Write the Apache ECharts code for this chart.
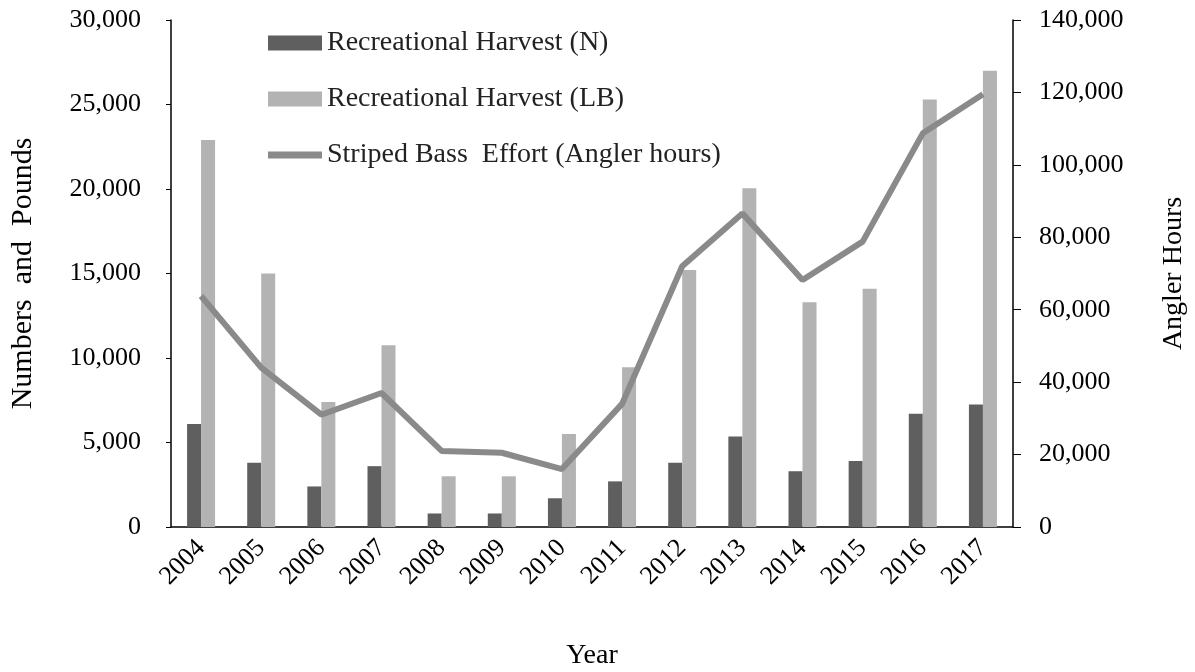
<!DOCTYPE html>
<html>
<head>
<meta charset="utf-8">
<script src="https://cdn.jsdelivr.net/npm/echarts@6/dist/echarts.min.js"></script>
<style>
  html, body { margin: 0; padding: 0; background: #fff; }
  #chart { width: 1195px; height: 672px; }
</style>
</head>
<body>
<div id="chart"></div>
<script>
const years = ['2004', '2005', '2006', '2007', '2008', '2009', '2010', '2011', '2012', '2013', '2014', '2015', '2016', '2017']
const harvestN = [6100, 3800, 2400, 3600, 800, 800, 1700, 2700, 3800, 5350, 3300, 3900, 6700, 7250]
const harvestLB = [22900, 15000, 7400, 10750, 3000, 3000, 5500, 9450, 15200, 20050, 13300, 14100, 25300, 27000]
const effortHours = [63800, 44000, 31000, 37000, 21000, 20500, 16000, 34000, 72000, 86600, 68200, 78800, 108700, 119500]

const font = 'Liberation Serif'
const fmt = function (v) { return Number(v).toLocaleString('en-US') }

const myChart = echarts.init(document.getElementById('chart'))
myChart.setOption({
  animation: false,
  textStyle: { fontFamily: font, color: '#000' },
  grid: { left: 171, right: 182, top: 20, bottom: 145, outerBoundsMode: 'none', containLabel: false },
  legend: {
    orient: 'vertical',
    left: 263,
    top: 24,
    itemWidth: 54,
    itemHeight: 15,
    itemGap: 28,
    textStyle: { fontFamily: font, fontSize: 28, lineHeight: 27, color: '#222' },
    data: [
      { name: 'Recreational Harvest (N)', icon: 'rect' },
      { name: 'Recreational Harvest (LB)', icon: 'rect' },
      { name: 'Striped Bass  Effort (Angler hours)', icon: 'path://M0,0H54V7H0Z' }
    ]
  },
  xAxis: {
    type: 'category',
    data: years,
    name: 'Year',
    nameLocation: 'middle',
    nameGap: 115,
    nameTextStyle: { fontFamily: font, fontSize: 28, color: '#000' },
    axisLine: { lineStyle: { color: '#000', width: 1.5 } },
    axisTick: { show: false },
    axisLabel: { rotate: 45, fontFamily: font, fontSize: 26, color: '#000', margin: 17 }
  },
  yAxis: [
    {
      type: 'value',
      min: 0,
      max: 30000,
      interval: 5000,
      name: 'Numbers  and  Pounds',
      nameLocation: 'middle',
      nameGap: 133,
      nameTextStyle: { fontFamily: font, fontSize: 30, color: '#000' },
      axisLine: { show: true, lineStyle: { color: '#000', width: 1.5 } },
      axisTick: { show: true, length: 5, lineStyle: { color: '#000' } },
      splitLine: { show: false },
      axisLabel: { fontFamily: font, fontSize: 26, color: '#000', margin: 30, formatter: fmt }
    },
    {
      type: 'value',
      min: 0,
      max: 140000,
      interval: 20000,
      name: 'Angler Hours',
      nameLocation: 'middle',
      nameGap: 147,
      nameRotate: 90,
      nameTextStyle: { fontFamily: font, fontSize: 28, color: '#000' },
      axisLine: { show: true, lineStyle: { color: '#000', width: 1.5 } },
      axisTick: { show: true, length: 8, lineStyle: { color: '#000' } },
      splitLine: { show: false },
      axisLabel: { fontFamily: font, fontSize: 26, color: '#000', margin: 26, formatter: fmt }
    }
  ],
  series: [
    {
      name: 'Recreational Harvest (N)',
      type: 'bar',
      data: harvestN,
      barWidth: 14,
      barGap: '0%',
      itemStyle: { color: '#5f5f5f' }
    },
    {
      name: 'Recreational Harvest (LB)',
      type: 'bar',
      data: harvestLB,
      barWidth: 14,
      barGap: '0%',
      itemStyle: { color: '#b3b3b3' }
    },
    {
      name: 'Striped Bass  Effort (Angler hours)',
      type: 'line',
      yAxisIndex: 1,
      data: effortHours,
      symbol: 'none',
      lineStyle: { color: '#8a8a8a', width: 6 },
      itemStyle: { color: '#8a8a8a' }
    }
  ]
})
</script>
</body>
</html>
